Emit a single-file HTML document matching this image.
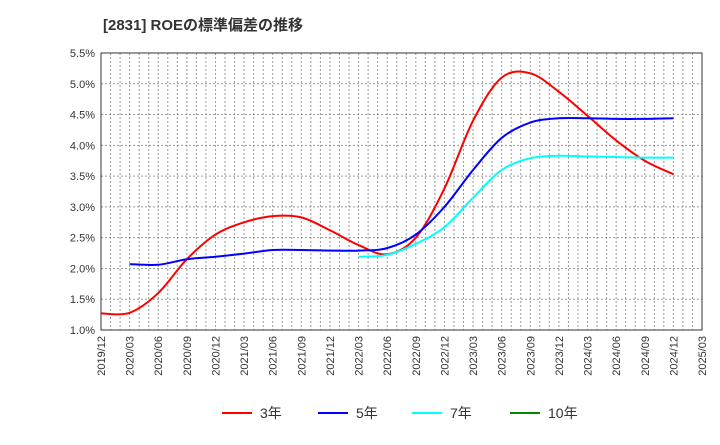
<!DOCTYPE html>
<html><head><meta charset="utf-8"><style>
body{margin:0;background:#fff;font-family:"Liberation Sans","Noto Sans CJK JP",sans-serif}
svg text{font-family:"Liberation Sans","Noto Sans CJK JP",sans-serif}
</style></head><body>
<svg id="c" width="720" height="440">
<text x="103" y="30" font-size="15" font-weight="bold" fill="#333">[2831]  ROEの標準偏差の推移</text>
<g id="grid"></g><g id="axes"></g><g id="series"></g><g id="legend"></g>
</svg>
<script>
const xLabels=["2019/12","2020/03","2020/06","2020/09","2020/12","2021/03","2021/06","2021/09","2021/12","2022/03","2022/06","2022/09","2022/12","2023/03","2023/06","2023/09","2023/12","2024/03","2024/06","2024/09","2024/12","2025/03"];
const yTicks=[1.0,1.5,2.0,2.5,3.0,3.5,4.0,4.5,5.0,5.5];
const s3=[1.27,1.28,1.6,2.15,2.55,2.75,2.85,2.83,2.62,2.38,2.23,2.5,3.3,4.4,5.1,5.17,4.87,4.48,4.08,3.75,3.53];
const s3start=0;
const s5=[2.07,2.06,2.15,2.19,2.24,2.30,2.30,2.29,2.29,2.33,2.55,3.0,3.6,4.12,4.37,4.44,4.44,4.43,4.43,4.44];
const s5start=1;
const s7=[2.19,2.22,2.4,2.67,3.15,3.6,3.79,3.83,3.82,3.81,3.80,3.80];
const s7start=9;
const L=101,R=702,T=53,B=330;
const ns="http://www.w3.org/2000/svg";
const X=i=>L+(R-L)*i/(xLabels.length-1);
const Y=v=>B-(B-T)*(v-1)/(5.5-1);
function mk(tag,attrs,parent){const e=document.createElementNS(ns,tag);for(const k in attrs)e.setAttribute(k,attrs[k]);parent.appendChild(e);return e;}
const g=document.getElementById('grid'),a=document.getElementById('axes'),s=document.getElementById('series'),lg=document.getElementById('legend');
for(let m=1;m<(xLabels.length-1)*3;m++){const x=L+(R-L)*m/((xLabels.length-1)*3);
const l=mk('line',{x1:x,x2:x,y1:T,y2:B,stroke:'#999','stroke-dasharray':'2,2','stroke-width':1},g);
}
yTicks.forEach(v=>{const y=Y(v);
const l=mk('line',{x1:L,x2:R,y1:y,y2:y,stroke:'#999','stroke-dasharray':'2,2','stroke-width':1},g);

const t=mk('text',{x:L-6,y:y+4,'text-anchor':'end','font-size':11,fill:'#333'},a);t.textContent=v.toFixed(1)+'%';
});
xLabels.forEach((lab,i)=>{const x=X(i);
const t=mk('text',{x:x+4,y:B+6,'text-anchor':'end','font-size':11,fill:'#333',transform:`rotate(-90 ${x+4} ${B+6})`},a);t.textContent=lab;
});
const fr=mk('rect',{x:L,y:T,width:R-L,height:B-T,fill:'none',stroke:'#333','stroke-width':1},a);

function path(vals,start){const p=vals.map((v,i)=>[X(start+i),Y(v)]);let d=`M${p[0][0]},${p[0][1]}`;
for(let i=0;i<p.length-1;i++){const p0=p[i-1]||p[i],p1=p[i],p2=p[i+1],p3=p[i+2]||p2;
d+=` C${p1[0]+(p2[0]-p0[0])/6},${p1[1]+(p2[1]-p0[1])/6} ${p2[0]-(p3[0]-p1[0])/6},${p2[1]-(p3[1]-p1[1])/6} ${p2[0]},${p2[1]}`;}return d;}
[[s3,s3start,'#f00','series-3y'],[s5,s5start,'#00f','series-5y'],[s7,s7start,'#0ff','series-7y']].forEach(([v,st,c,n])=>{
const e=mk('path',{d:path(v,st),fill:'none',stroke:c,'stroke-width':2},s);
});
[['3年','#f00',222],['5年','#00f',318],['7年','#0ff',412],['10年','#080',510]].forEach(([t,c,x])=>{
const gg=mk('g',{},lg);
mk('line',{x1:x,x2:x+30,y1:413,y2:413,stroke:c,'stroke-width':2},gg);
const tx=mk('text',{x:x+38,y:418,'font-size':14,fill:'#333'},gg);tx.textContent=t;});
</script>
</body></html>
